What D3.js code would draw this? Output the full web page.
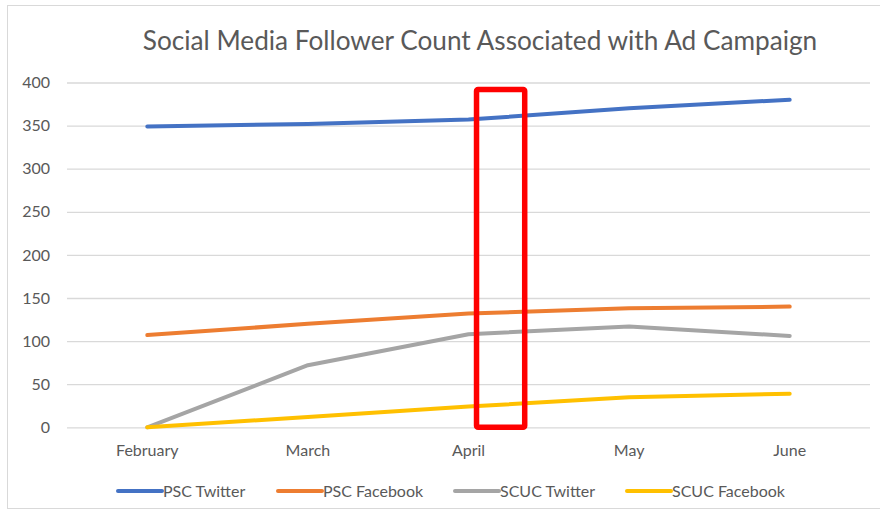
<!DOCTYPE html>
<html>
<head>
<meta charset="utf-8">
<script src="https://cdn.jsdelivr.net/npm/d3@7"></script>
<style>
  html, body { margin: 0; padding: 0; background: #fff; }
  svg { display: block; }
</style>
</head>
<body>
<svg id="chart" width="880" height="519"></svg>
<script>
const months = ["February", "March", "April", "May", "June"];
const seriesNames = ["PSC Twitter", "PSC Facebook", "SCUC Twitter", "SCUC Facebook"];
const pscTwitter = [349, 352, 357, 370, 380];
const pscFacebook = [107, 120, 132, 138, 140];
const scucTwitter = [0, 72, 108, 117, 106];
const scucFacebook = [0, 12, 24, 35, 39];
const yTicks = [0, 50, 100, 150, 200, 250, 300, 350, 400];
const colors = ["#4472C4", "#ED7D31", "#A5A5A5", "#FFC000"];
// highlight annotation (in data terms): from just after April toward May, from 0 up to ~392
const highlight = { month: "April", startFrac: 0.05, endFrac: 0.35, top: 392, bottom: 0 };

const allSeries = [pscTwitter, pscFacebook, scucTwitter, scucFacebook];

const svg = d3.select("#chart");
const plot = { left: 67, right: 870, top: 82.5, bottom: 427.3 };

// frame
svg.append("rect")
  .attr("x", 7.5).attr("y", 5.5).attr("width", 880).attr("height", 503)
  .attr("fill", "none").attr("stroke", "#d9d9d9").attr("stroke-width", 1);

const x = d3.scaleBand().domain(months).range([plot.left, plot.right]);
const xc = m => x(m) + x.bandwidth() / 2;
const y = d3.scaleLinear().domain([0, 400]).range([plot.bottom, plot.top]);

const font = "Lato, 'Open Sans', sans-serif";
const fs = 16;

// title
svg.append("text")
  .attr("x", 480).attr("y", 50)
  .attr("text-anchor", "middle")
  .attr("font-family", font)
  .attr("font-size", 26.2)
  .attr("fill", "#595959")
  .text("Social Media Follower Count Associated with Ad Campaign");

// gridlines
const yAxis = d3.axisLeft(y).tickValues(yTicks).tickSize(-(plot.right - plot.left)).tickPadding(17);
const gy = svg.append("g").attr("transform", `translate(${plot.left},0)`).call(yAxis);
gy.select(".domain").remove();
gy.selectAll(".tick line").attr("stroke", "#d9d9d9").attr("stroke-width", 1.3);
gy.selectAll(".tick text")
  .attr("font-family", font).attr("font-size", fs).attr("fill", "#595959");

// x axis labels
const xAxis = d3.axisBottom(x).tickSize(0).tickPadding(17);
const gx = svg.append("g").attr("transform", `translate(0,${plot.bottom})`).call(xAxis);
gx.select(".domain").remove();
gx.selectAll(".tick text")
  .attr("font-family", font).attr("font-size", fs).attr("fill", "#595959");

// lines
const line = d3.line().x((d, i) => xc(months[i])).y(d => y(d));
allSeries.forEach((s, k) => {
  svg.append("path")
    .datum(s)
    .attr("d", line)
    .attr("fill", "none")
    .attr("stroke", colors[k])
    .attr("stroke-width", 4)
    .attr("stroke-linecap", "round")
    .attr("stroke-linejoin", "round");
});

// highlight rectangle
const step = x.step();
const hx0 = xc(highlight.month) + highlight.startFrac * step;
const hx1 = xc(highlight.month) + highlight.endFrac * step;
svg.append("rect")
  .attr("x", hx0).attr("y", y(highlight.top))
  .attr("width", hx1 - hx0).attr("height", y(highlight.bottom) - y(highlight.top))
  .attr("rx", 1.5)
  .attr("fill", "none").attr("stroke", "#FF0000").attr("stroke-width", 5.5);

// legend
const legendX = [118, 278, 455, 627];
const legend = svg.append("g");
seriesNames.forEach((n, k) => {
  const g = legend.append("g").attr("transform", `translate(${legendX[k]},491)`);
  g.append("line").attr("x1", 0).attr("x2", 44).attr("y1", 0).attr("y2", 0)
    .attr("stroke", colors[k]).attr("stroke-width", 4).attr("stroke-linecap", "round");
  g.append("text").attr("x", 45).attr("y", 6)
    .attr("font-family", font).attr("font-size", fs).attr("fill", "#595959")
    .text(n);
});
</script>
</body>
</html>
